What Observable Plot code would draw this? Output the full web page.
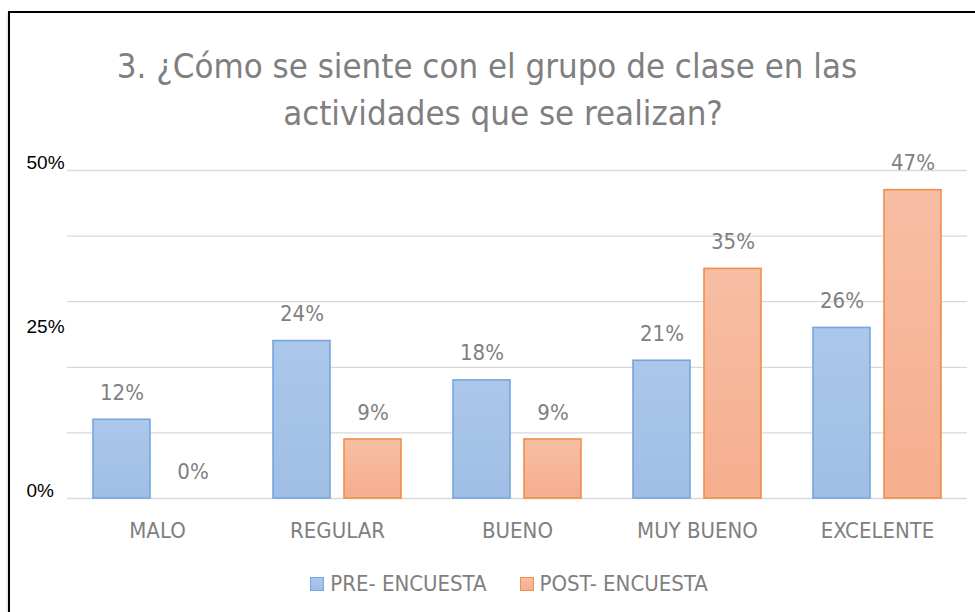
<!DOCTYPE html>
<html>
<head>
<meta charset="utf-8">
<script src="https://cdn.jsdelivr.net/npm/d3@7"></script>
<script src="https://cdn.jsdelivr.net/npm/@observablehq/plot@0.6"></script>
<style>
  body { margin: 0; background: #fff; width: 975px; height: 612px; overflow: hidden; position: relative; }
  #frame { position: absolute; left: 8px; top: 11px; width: 990px; height: 640px; border: 2px solid #000; box-sizing: border-box; box-shadow: 0 2px 3px rgba(0,0,0,0.25); }
  .title { position: absolute; text-align: center; color: #7f7f7f; font-family: "Liberation Sans Narrow", "DejaVu Sans Condensed", sans-serif; font-size: 34.5px; white-space: nowrap; }
  #chart { position: absolute; left: 0; top: 140px; }
  #legend { position: absolute; top: 571px; left: 0; width: 1018px; display: flex; justify-content: center; gap: 33px; font-family: "Liberation Sans Narrow", "DejaVu Sans Condensed", sans-serif; font-size: 22px; color: #7f7f7f; }
  .item { display: flex; align-items: center; gap: 6px; }
  .sw { width: 12px; height: 12px; border: 1.5px solid; }
</style>
</head>
<body>
<div id="frame"></div>
<div class="title" style="left:0; width:974px; top:46px;">3. ¿Cómo se siente con el grupo de clase en las</div>
<div class="title" style="left:0; width:1006px; top:93px;">actividades que se realizan?</div>
<div id="chart"></div>
<div id="legend"></div>
<script>
const categories = ["MALO", "REGULAR", "BUENO", "MUY BUENO", "EXCELENTE"];
const series = ["PRE- ENCUESTA", "POST- ENCUESTA"];
const preValues = [12, 24, 18, 21, 26];
const postValues = [0, 9, 9, 35, 47];
const yTicks = [0, 25, 50];
const gridValues = [0, 10, 20, 30, 40, 50];

const fills = ["url(#gBlue)", "url(#gOrange)"];
const strokes = ["#77a5dc", "#ef8f4c"];

const data = categories.flatMap((c, i) => [
  {cat: c, serie: series[0], value: preValues[i]},
  {cat: c, serie: series[1], value: postValues[i]}
]);

const narrow = "'Liberation Sans Narrow', 'DejaVu Sans Condensed', sans-serif";

const chart = Plot.plot({
  width: 975,
  height: 430,
  marginTop: 30,
  marginBottom: 72,
  marginLeft: 65,
  marginRight: 7,
  style: {fontFamily: narrow, background: "transparent", overflow: "visible"},
  fx: {domain: categories, padding: 0, label: null},
  x: {domain: series, paddingInner: 0.197, paddingOuter: 0.366, axis: null},
  y: {domain: [0, 50], label: null},
  marks: [
    Plot.ruleY(gridValues, {stroke: "#d9d9d9", strokeWidth: 1.3}),
    ...series.map((s, k) => Plot.barY(data.filter(d => d.serie === s), {
      fx: "cat", x: "serie", y: "value",
      fill: fills[k], stroke: strokes[k], strokeWidth: 1.6
    })),
    Plot.text(data, {
      fx: "cat", x: "serie", y: "value",
      text: d => d.value + "%", dy: -27,
      fill: "#7f7f7f", fontSize: 22
    }),
    Plot.axisFx({anchor: "bottom", tickSize: 0, tickPadding: 24, fontSize: 22, fill: "#7f7f7f", label: null}),
    Plot.axisY(yTicks, {anchor: "left", tickSize: 0, tickPadding: 41, textAnchor: "start",
      tickFormat: d => d + "%", dy: -8, fontSize: 19, fill: "#000",
      fontFamily: "'Liberation Sans', Arial, sans-serif", label: null})
  ]
});

const defs = d3.select(chart).insert("defs", ":first-child");
const grads = [
  ["gBlue", "#abc7ea", "#a0bee5"],
  ["gOrange", "#f7bea3", "#f5ae8e"]
];
for (const [id, c1, c2] of grads) {
  const g = defs.append("linearGradient").attr("id", id).attr("x1", 0).attr("y1", 0).attr("x2", 0).attr("y2", 1);
  g.append("stop").attr("offset", "0%").attr("stop-color", c1);
  g.append("stop").attr("offset", "100%").attr("stop-color", c2);
}
document.getElementById("chart").appendChild(chart);

const legend = d3.select("#legend");
series.forEach((s, k) => {
  const it = legend.append("div").attr("class", "item");
  it.append("div").attr("class", "sw")
    .style("background", k === 0 ? "linear-gradient(#abc7ea,#a0bee5)" : "linear-gradient(#f7bea3,#f5ae8e)")
    .style("border-color", strokes[k]);
  it.append("span").text(s);
});
</script>
</body>
</html>
